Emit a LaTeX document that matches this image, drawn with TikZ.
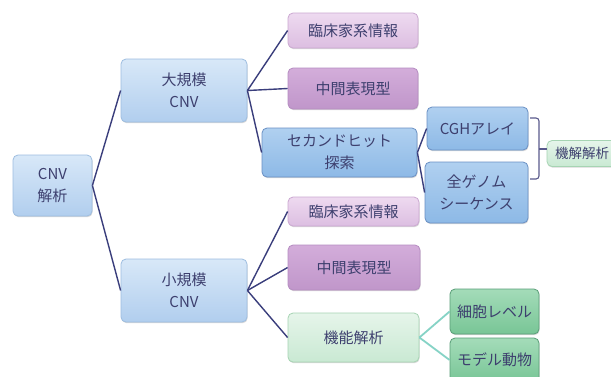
\documentclass[tikz,border=0pt]{standalone}
\usepackage{fontspec}
\setmainfont{Noto Sans CJK JP}
\usetikzlibrary{shadows}
\definecolor{txt}{HTML}{3D3F6E}
\definecolor{navy}{HTML}{3A3E7C}
\definecolor{tealc}{HTML}{86D3C6}
\definecolor{brk}{HTML}{5A5A8C}
\definecolor{bbD}{HTML}{9DBDE0}\definecolor{bbT}{HTML}{D8E8F8}\definecolor{bbB}{HTML}{B1CEEE}
\definecolor{mbD}{HTML}{6A90C4}\definecolor{mbT}{HTML}{B0D0F0}\definecolor{mbB}{HTML}{8DB9E6}
\definecolor{pkD}{HTML}{CBA8D1}\definecolor{pkT}{HTML}{EEDAF0}\definecolor{pkB}{HTML}{DCBEE1}
\definecolor{puD}{HTML}{B58CC1}\definecolor{puT}{HTML}{D3ADDA}\definecolor{puB}{HTML}{C096CA}
\definecolor{lgD}{HTML}{A6D4B3}\definecolor{lgT}{HTML}{E6F5EA}\definecolor{lgB}{HTML}{C9E9D3}
\definecolor{grD}{HTML}{5A9E78}\definecolor{grT}{HTML}{A4DCB9}\definecolor{grB}{HTML}{78C596}
\tikzset{
  box/.style={rounded corners=5pt, inner sep=0pt, align=center, text=txt,
    font=\fontsize{15}{22}\selectfont, line width=0.8pt,
    drop shadow={shadow xshift=0.6pt, shadow yshift=-1.2pt, opacity=0.25, fill=black!60}},
  bluebox/.style={box, draw=bbD, top color=bbT, bottom color=bbB},
  midblue/.style={box, draw=mbD, top color=mbT, bottom color=mbB},
  pinkbox/.style={box, draw=pkD, top color=pkT, bottom color=pkB},
  purplebox/.style={box, draw=puD, top color=puT, bottom color=puB},
  lgreenbox/.style={box, draw=lgD, top color=lgT, bottom color=lgB},
  greenbox/.style={box, draw=grD, top color=grT, bottom color=grB},
  conn/.style={draw=navy, line width=1.4pt},
  tconn/.style={draw=tealc, line width=1.8pt},
}
\begin{document}
\begin{tikzpicture}[x=1pt,y=-1pt]
\useasboundingbox (0,0) rectangle (611,376);
\fill[white] (0,0) rectangle (611,376);
\clip (0,0) rectangle (611,376);
% nodes
\node[bluebox, minimum width=79pt, minimum height=61pt] (cnv) at (52.5,185.5) {CNV\\解析};
\node[bluebox, minimum width=126pt, minimum height=63pt] (large) at (184,90.5) {大規模\\CNV};
\node[bluebox, minimum width=126pt, minimum height=63pt] (small) at (184,290.5) {小規模\\CNV};
\node[pinkbox, minimum width=130pt, minimum height=35pt] (clin1) at (353,30.5) {臨床家系情報};
\node[purplebox, minimum width=130pt, minimum height=41pt] (mid1) at (353,88.5) {中間表現型};
\node[midblue, minimum width=155pt, minimum height=49pt] (second) at (339.5,152.5) {セカンドヒット\\探索};
\node[midblue, minimum width=101pt, minimum height=43pt] (cgh) at (477.5,128.5) {CGHアレイ};
\node[midblue, minimum width=103pt, minimum height=61pt] (genome) at (476.5,192.5) {全ゲノム\\シーケンス};
\node[lgreenbox, minimum width=70pt, minimum height=26pt, font=\fontsize{13.5}{16}\selectfont] (func2) at (582,153.5) {機解解析};
\node[pinkbox, minimum width=131pt, minimum height=29pt] (clin2) at (353.5,211.5) {臨床家系情報};
\node[purplebox, minimum width=132pt, minimum height=45pt] (mid2) at (354,267.5) {中間表現型};
\node[lgreenbox, minimum width=131pt, minimum height=49pt] (func) at (353.5,337.5) {機能解析};
\node[greenbox, minimum width=89pt, minimum height=45pt] (cell) at (494.5,311.5) {細胞レベル};
\node[greenbox, minimum width=89pt, minimum height=44pt] (model) at (494.5,360) {モデル動物};
% connectors
\draw[conn] (cnv.east) -- (large.west);
\draw[conn] (cnv.east) -- (small.west);
\draw[conn] (large.east) -- (clin1.west);
\draw[conn] (large.east) -- (mid1.west);
\draw[conn] (large.east) -- (second.west);
\draw[conn] (second.east) -- (cgh.west);
\draw[conn] (second.east) -- (genome.west);
\draw[conn] (small.east) -- (clin2.west);
\draw[conn] (small.east) -- (mid2.west);
\draw[conn] (small.east) -- (func.west);
\draw[tconn] (func.east) -- (cell.west);
\draw[tconn] (func.east) -- (model.west);
% bracket
\coordinate (bt) at (530,118);
\coordinate (bb) at (530,179);
\coordinate (bm) at (539,149);
\draw[brk, line width=1.1pt, rounded corners=3pt] (bt) -- (539,118) -- (539,179) -- (bb);
\draw[brk, line width=1.1pt] (bm) -- (bm -| func2.west);
\end{tikzpicture}
\end{document}
